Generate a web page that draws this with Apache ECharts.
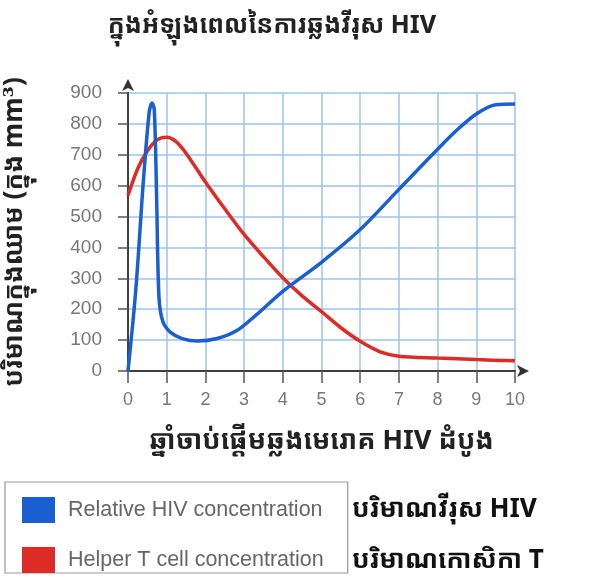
<!DOCTYPE html>
<html>
<head>
<meta charset="utf-8">
<script src="https://cdn.jsdelivr.net/npm/echarts@6/dist/echarts.min.js"></script>
<style>html,body{margin:0;padding:0;background:#fff}#c{width:589px;height:577px}</style>
</head>
<body>
<div id="c"></div>
<script>
// Data
const titleText = 'ក្នុងអំឡុងពេលនៃការឆ្លងវីរុស HIV';
const xName = 'ឆ្នាំចាប់ផ្តើមឆ្លងមេរោគ HIV ដំបូង';
const yName = 'បរិមាណក្នុងឈាម (ក្នុង mm³)';
const seriesNames = ['Relative HIV concentration', 'Helper T cell concentration'];
const khmerLabels = ['បរិមាណវីរុស HIV', 'បរិមាណកោសិកា T'];
const hivX = [0, 0.2, 0.4, 0.55, 0.62, 0.68, 0.74, 0.8, 0.9, 1.1, 1.4, 1.8, 2.3, 2.8, 3.3, 4, 5, 6, 7, 8, 8.5, 9, 9.5, 10];
const hivY = [0, 260, 620, 840, 868, 845, 560, 240, 160, 125, 105, 97, 105, 130, 180, 258, 352, 458, 588, 718, 780, 832, 862, 864];
const tX = [0, 0.25, 0.5, 0.75, 1, 1.25, 1.5, 2, 2.5, 3, 3.5, 4, 4.5, 5, 5.5, 6, 6.5, 7, 8, 9, 10];
const tY = [568, 655, 712, 748, 757, 742, 705, 612, 525, 442, 370, 302, 243, 192, 140, 96, 63, 48, 42, 37, 33];

const khFont = '"Noto Sans Khmer","Noto Serif Khmer","Khmer OS","DejaVu Serif",serif';
const numFont = 'Liberation Sans, Arial, sans-serif';
const chart = echarts.init(document.getElementById('c'));
const frameAxis = {show: true, lineStyle: {color: '#444', width: 1.5}};
chart.setOption({
  animation: false,
  backgroundColor: '#fff',
  title: {
    text: titleText, left: 267, top: 8, textAlign: 'center',
    textStyle: {fontFamily: khFont, fontSize: 25, fontWeight: 'bold', color: '#222'}
  },
  grid: {left: 128, right: 74, top: 93, bottom: 206, containLabel: false, outerBoundsMode: 'none'},
  legend: {
    orient: 'vertical', left: 5, top: 482, icon: 'rect', itemWidth: 33, itemHeight: 26, itemGap: 24,
    padding: [15, 24, 0, 17], borderColor: '#999', borderWidth: 1.2,
    textStyle: {fontFamily: numFont, fontSize: 21.5, color: '#666', padding: [0, 0, 0, 8]},
    data: seriesNames
  },
  xAxis: [{
    type: 'value', min: 0, max: 10, interval: 1,
    name: xName, nameLocation: 'middle', nameGap: 57,
    nameTextStyle: {fontFamily: khFont, fontSize: 27, fontWeight: 'bold', color: '#222'},
    axisLine: {show: true, lineStyle: {color: '#333', width: 2}, symbol: ['none', 'arrow'], symbolSize: [9, 12], symbolOffset: [0, 14]},
    axisTick: {show: true, length: 12, lineStyle: {color: '#555', width: 1.5}},
    axisLabel: {margin: 20, fontFamily: numFont, fontSize: 18, color: '#777'},
    splitLine: {show: true, lineStyle: {color: '#9cc3ee', width: 1.5}}
  }, {
    type: 'value', min: 0, max: 10, position: 'top',
    axisLine: frameAxis, axisTick: {show: false}, axisLabel: {show: false}, splitLine: {show: false}
  }],
  yAxis: [{
    type: 'value', min: 0, max: 900, interval: 100,
    name: yName, nameLocation: 'middle', nameGap: 100, nameRotate: 90,
    nameTextStyle: {fontFamily: khFont, fontSize: 26, fontWeight: 'bold', color: '#222'},
    axisLine: {show: true, lineStyle: {color: '#333', width: 2}, symbol: ['none', 'arrow'], symbolSize: [9, 12], symbolOffset: [0, 14]},
    axisTick: {show: true, length: 10, lineStyle: {color: '#555', width: 1.5}},
    axisLabel: {margin: 26, fontFamily: numFont, fontSize: 19, color: '#777'},
    splitLine: {show: true, lineStyle: {color: '#9cc3ee', width: 1.5}}
  }, {
    type: 'value', min: 0, max: 900, position: 'right',
    axisLine: frameAxis, axisTick: {show: false}, axisLabel: {show: false}, splitLine: {show: false}
  }],
  graphic: [
    {type: 'text', left: 352, top: 497, style: {text: khmerLabels[0], font: 'bold 26px ' + khFont, fill: '#111'}},
    {type: 'text', left: 352, top: 548, style: {text: khmerLabels[1], font: 'bold 26px ' + khFont, fill: '#111'}}
  ],
  series: [
    {name: seriesNames[0], type: 'line', smooth: 0.3, showSymbol: false, z: 3,
     itemStyle: {color: '#1a5fd2'}, lineStyle: {color: '#1a5fd2', width: 3.5},
     data: hivX.map((x, i) => [x, hivY[i]])},
    {name: seriesNames[1], type: 'line', smooth: 0.3, showSymbol: false, z: 2,
     itemStyle: {color: '#dd2c26'}, lineStyle: {color: '#dd2c26', width: 3.5},
     data: tX.map((x, i) => [x, tY[i]])}
  ]
});
</script>
</body>
</html>
